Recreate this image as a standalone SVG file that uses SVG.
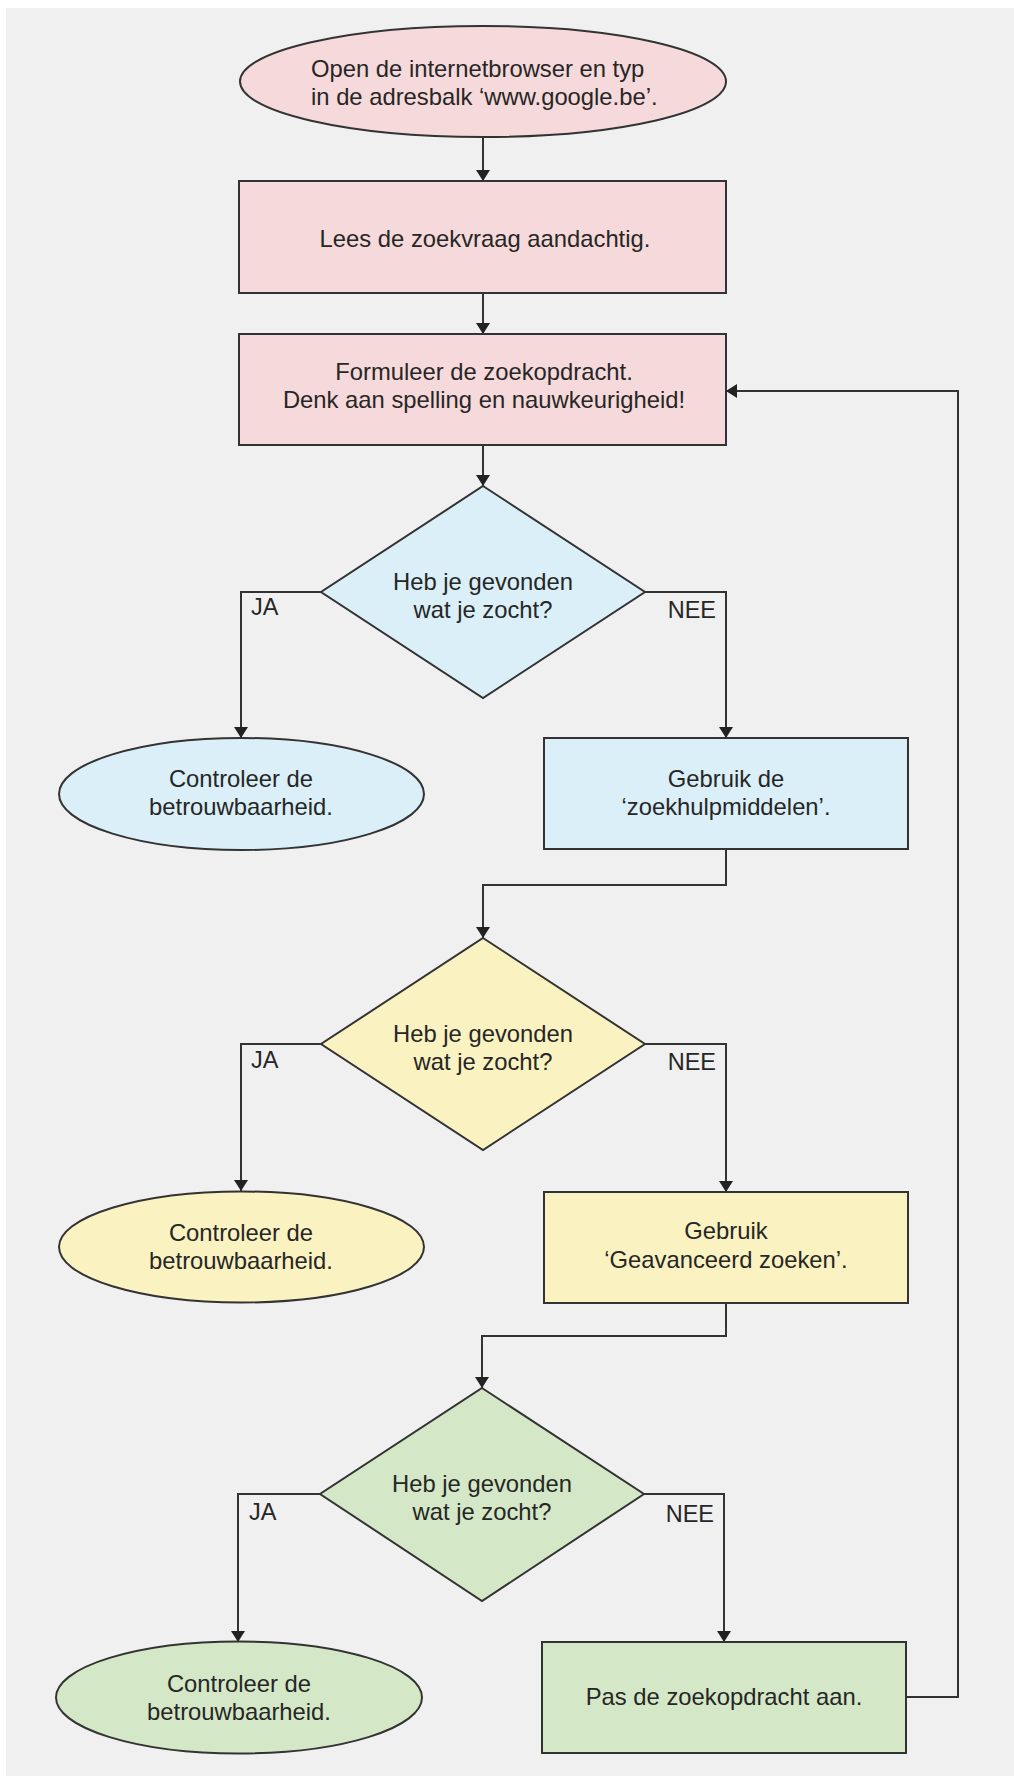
<svg xmlns="http://www.w3.org/2000/svg" width="1014" height="1776" viewBox="0 0 1014 1776">
  <style>
    .bg { fill: #f0f0f0; }
    .shape { stroke: #333333; stroke-width: 2; }
    .pink { fill: #f6d9da; }
    .blue { fill: #daeff8; }
    .yellow { fill: #faf2c1; }
    .green { fill: #d4e8c7; }
    .t { font-family: "Liberation Sans", Arial, sans-serif; font-size: 23.8px; fill: #262626; text-anchor: middle; }
    .ts { font-family: "Liberation Sans", Arial, sans-serif; font-size: 23.8px; fill: #262626; text-anchor: start; }
    .lbl { font-family: "Liberation Sans", Arial, sans-serif; font-size: 23.5px; fill: #262626; text-anchor: start; }
    .lble { font-family: "Liberation Sans", Arial, sans-serif; font-size: 23.5px; fill: #262626; text-anchor: end; }
    .conn { fill: none; stroke: #333333; stroke-width: 2; marker-end: url(#arrow); }
  </style>
  <defs>
    <marker id="arrow" viewBox="0 0 11 14" refX="11" refY="7" markerWidth="11" markerHeight="14" markerUnits="userSpaceOnUse" orient="auto">
      <path d="M0,0 L11,7 L0,14 Z" fill="#222222"/>
    </marker>
  </defs>

  <rect class="bg" x="6" y="8" width="1008" height="1768"/>

  <g id="connectors">
    <path class="conn" d="M483,137 V181"/>
    <path class="conn" d="M483,293 V334"/>
    <path class="conn" d="M483,445 V486"/>
    <path class="conn" d="M321,592 H241 V738"/>
    <path class="conn" d="M645,592 H726 V738"/>
    <path class="conn" d="M726,849 V885 H483 V938"/>
    <path class="conn" d="M321,1044 H241 V1191"/>
    <path class="conn" d="M645,1044 H726 V1192"/>
    <path class="conn" d="M726,1303 V1336 H482 V1388"/>
    <path class="conn" d="M320,1494 H238 V1642"/>
    <path class="conn" d="M644,1494 H724 V1642"/>
    <path class="conn" d="M906,1697 H958 V391 H726"/>
    <text class="lbl" x="251" y="615">JA</text>
    <text class="lble" x="716" y="618">NEE</text>
    <text class="lbl" x="251" y="1068">JA</text>
    <text class="lble" x="716" y="1070">NEE</text>
    <text class="lbl" x="249" y="1520">JA</text>
    <text class="lble" x="714" y="1522">NEE</text>
  </g>

  <g id="start">
    <ellipse class="shape pink" cx="483" cy="81.5" rx="243" ry="55.5"/>
    <text class="ts" x="311" y="77">Open de internetbrowser en typ</text>
    <text class="ts" x="311" y="105">in de adresbalk ‘www.google.be’.</text>
  </g>

  <g id="lees">
    <rect class="shape pink" x="239" y="181" width="487" height="112"/>
    <text class="t" x="485" y="247">Lees de zoekvraag aandachtig.</text>
  </g>

  <g id="formuleer">
    <rect class="shape pink" x="239" y="334" width="487" height="111"/>
    <text class="t" x="484" y="380">Formuleer de zoekopdracht.</text>
    <text class="t" x="484" y="408">Denk aan spelling en nauwkeurigheid!</text>
  </g>

  <g id="vraag1">
    <polygon class="shape blue" points="483,486 645,592 483,698 321,592"/>
    <text class="t" x="483" y="590">Heb je gevonden</text>
    <text class="t" x="483" y="618">wat je zocht?</text>
  </g>

  <g id="controle1">
    <ellipse class="shape blue" cx="241.5" cy="794" rx="182.5" ry="56"/>
    <text class="t" x="241" y="787">Controleer de</text>
    <text class="t" x="241" y="815">betrouwbaarheid.</text>
  </g>

  <g id="zoekhulp">
    <rect class="shape blue" x="544" y="738" width="364" height="111"/>
    <text class="t" x="726" y="787">Gebruik de</text>
    <text class="t" x="726" y="815">‘zoekhulpmiddelen’.</text>
  </g>

  <g id="vraag2">
    <polygon class="shape yellow" points="483,938 645,1044 483,1150 321,1044"/>
    <text class="t" x="483" y="1042">Heb je gevonden</text>
    <text class="t" x="483" y="1070">wat je zocht?</text>
  </g>

  <g id="controle2">
    <ellipse class="shape yellow" cx="241.5" cy="1247" rx="182.5" ry="55.5"/>
    <text class="t" x="241" y="1241">Controleer de</text>
    <text class="t" x="241" y="1269">betrouwbaarheid.</text>
  </g>

  <g id="geavanceerd">
    <rect class="shape yellow" x="544" y="1192" width="364" height="111"/>
    <text class="t" x="726" y="1239">Gebruik</text>
    <text class="t" x="726" y="1268">‘Geavanceerd zoeken’.</text>
  </g>

  <g id="vraag3">
    <polygon class="shape green" points="482,1388 644,1494 482,1601 320,1494"/>
    <text class="t" x="482" y="1492">Heb je gevonden</text>
    <text class="t" x="482" y="1520">wat je zocht?</text>
  </g>

  <g id="controle3">
    <ellipse class="shape green" cx="239" cy="1697.5" rx="183" ry="56"/>
    <text class="t" x="239" y="1692">Controleer de</text>
    <text class="t" x="239" y="1720">betrouwbaarheid.</text>
  </g>

  <g id="aanpassen">
    <rect class="shape green" x="542" y="1642" width="364" height="111"/>
    <text class="t" x="724" y="1705">Pas de zoekopdracht aan.</text>
  </g>
</svg>
